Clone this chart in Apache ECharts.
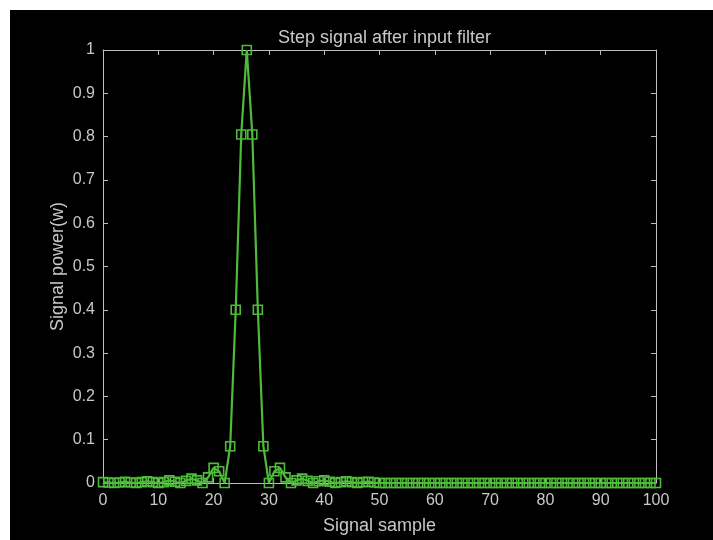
<!DOCTYPE html>
<html>
<head>
<meta charset="utf-8">
<script src="https://cdn.jsdelivr.net/npm/echarts@6/dist/echarts.min.js"></script>
<style>
  html, body { margin: 0; padding: 0; background: #fff; }
  #main { position: absolute; left: 10px; top: 10px; width: 703px; height: 530px; }
</style>
</head>
<body>
<div id="main"></div>
<script>
// sample index 0..100 and filtered step signal power
var samples = [];
for (var i = 0; i <= 100; i++) samples.push(i);

var power = [
  0.002, 0.001, 0, 0.001, 0.003, 0.001, 0, 0.002, 0.004, 0.002,
  0, 0.002, 0.006, 0.003, 0, 0.005, 0.01, 0.006, 0, 0.013,
  0.035, 0.027, 0, 0.085, 0.4, 0.805, 1, 0.805, 0.4, 0.085,
  0, 0.027, 0.035, 0.013, 0, 0.006, 0.01, 0.005, 0, 0.004,
  0.006, 0.003, 0, 0.002, 0.004, 0.002, 0, 0.002, 0.003, 0.001,
  0, 0, 0, 0, 0, 0, 0, 0, 0, 0,
  0, 0, 0, 0, 0, 0, 0, 0, 0, 0,
  0, 0, 0, 0, 0, 0, 0, 0, 0, 0,
  0, 0, 0, 0, 0, 0, 0, 0, 0, 0,
  0, 0, 0, 0, 0, 0, 0, 0, 0, 0,
  0
];

var txt = '#c8c8c8';
var axisCol = '#bdbdbd';
var green = '#4fbb3b';
var font = 'Liberation Sans';

var pts = [];
for (var k = 0; k < samples.length; k++) pts.push([samples[k], power[k]]);

var myChart = echarts.init(document.getElementById('main'));
var option = {
  backgroundColor: '#000',
  animation: false,
  title: {
    text: 'Step signal after input filter',
    left: 369.5, top: 14, textAlign: 'center',
    textStyle: { color: txt, fontSize: 18, fontWeight: 'normal', fontFamily: font }
  },
  grid: { left: 93, top: 40, width: 553, height: 435 },
  xAxis: [
    {
      type: 'value', min: 0, max: 100, interval: 10, position: 'bottom',
      name: 'Signal sample', nameLocation: 'middle', nameGap: 34, nameMoveOverlap: false,
      nameTextStyle: { color: txt, fontSize: 18, fontFamily: font },
      axisLine: { show: true, onZero: false, lineStyle: { color: axisCol, width: 1 } },
      axisTick: { show: true, inside: true, length: 5, lineStyle: { color: axisCol } },
      axisLabel: { color: txt, fontSize: 16, margin: 10, fontFamily: font },
      splitLine: { show: false }
    },
    {
      type: 'value', min: 0, max: 100, interval: 10, position: 'top',
      axisLine: { show: true, onZero: false, lineStyle: { color: axisCol, width: 1 } },
      axisTick: { show: true, inside: true, length: 5, lineStyle: { color: axisCol } },
      axisLabel: { show: false },
      splitLine: { show: false }
    }
  ],
  yAxis: [
    {
      type: 'value', min: 0, max: 1, interval: 0.1, position: 'left',
      name: 'Signal power(w)', nameLocation: 'middle', nameGap: 36, nameRotate: 90,
      nameMoveOverlap: false,
      nameTextStyle: { color: txt, fontSize: 18, fontFamily: font },
      axisLine: { show: true, onZero: false, lineStyle: { color: axisCol, width: 1 } },
      axisTick: { show: true, inside: true, length: 5, lineStyle: { color: axisCol } },
      axisLabel: {
        color: txt, fontSize: 16, margin: 8, fontFamily: font,
        formatter: function (v) { return String(+v.toFixed(1)); }
      },
      splitLine: { show: false }
    },
    {
      type: 'value', min: 0, max: 1, interval: 0.1, position: 'right',
      axisLine: { show: true, onZero: false, lineStyle: { color: axisCol, width: 1 } },
      axisTick: { show: true, inside: true, length: 5, lineStyle: { color: axisCol } },
      axisLabel: { show: false },
      splitLine: { show: false }
    }
  ],
  series: [
    {
      name: 'power',
      type: 'line',
      xAxisIndex: 0, yAxisIndex: 0,
      data: pts,
      symbol: 'rect',
      symbolSize: 9,
      showAllSymbol: true,
      lineStyle: { color: green, width: 2.2 },
      itemStyle: { color: 'rgba(0,0,0,0)', borderColor: green, borderWidth: 1.6 }
    }
  ]
};
myChart.setOption(option);
</script>
</body>
</html>
